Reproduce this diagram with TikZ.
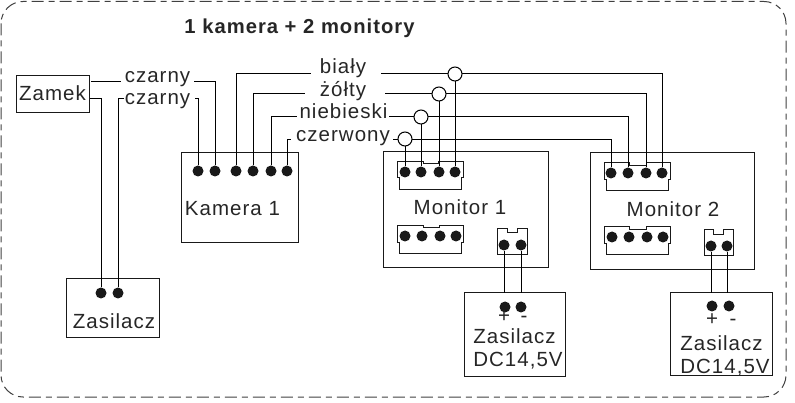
\documentclass[tikz,border=0pt]{standalone}
\usepackage{fontspec}
\setmainfont[LetterSpace=5]{Liberation Sans}
\tikzset{
  wire/.style={line width=1pt, black},
  boxline/.style={draw=black!90, line width=1pt},
  pin/.style={circle, fill=black!90, minimum size=11pt, inner sep=0pt},
  junction/.style={circle, draw=black, fill=white, line width=1pt, minimum size=14pt, inner sep=0pt},
  lbl/.style={font=\fontsize{20.5}{21}\selectfont, text=black!85, inner sep=0pt, anchor=base},
  bordr/.style={line width=1pt, black!75, dash pattern=on 12pt off 5pt on 6pt off 5pt, rounded corners=22pt}
}
\begin{document}
\begin{tikzpicture}[x=1pt, y=-1pt]
\useasboundingbox (0,0) rectangle (795,403);

% Outer frame
\draw[bordr] (1,1.5) rectangle (786,397);
\node[lbl, font=\fontsize{20.2}{21}\selectfont\bfseries] (title) at (299.5,34) {1 kamera + 2 monitory};

% Boxes
\node[lbl] (zamekTxt) at (52.5,100.5) {Zamek};
\draw[boxline] (16.5,76) rectangle (89.5,113);
\draw[boxline] (181.5,153) rectangle (298.5,243);
\node[lbl] (kameraTxt) at (232.5,216) {Kamera 1};
\draw[boxline] (66.5,279) rectangle (159,337);
\node[lbl] (zasTxt) at (114,328) {Zasilacz};
\draw[boxline] (383.5,152) rectangle (548,268);
\node[lbl] (mon1Txt) at (460,215) {Monitor 1};
\draw[boxline] (590,153) rectangle (754,270);
\node[lbl] (mon2Txt) at (673,216.5) {Monitor 2};
\draw[boxline] (464,293) rectangle (565,376);
\draw[boxline] (670,293) rectangle (772,375);

% Connectors on the monitors
\draw[boxline] (397,162) -- (423,162) -- (423,164) -- (438,164) -- (438,162) -- (463,162) -- (463,178) -- (461,178) -- (461,190) -- (399,190) -- (399,178) -- (397,178) -- cycle;
\draw[boxline] (397,226) -- (423,226) -- (423,228) -- (439,228) -- (439,226) -- (463,226) -- (463,243) -- (461,243) -- (461,254) -- (399,254) -- (399,243) -- (397,243) -- cycle;
\draw[boxline] (497,229) -- (507,229) -- (507,233) -- (517,233) -- (517,229) -- (527,229) -- (527,255) -- (497,255) -- cycle;
\draw[boxline] (604,163) -- (629,163) -- (629,166) -- (646,166) -- (646,163) -- (670,163) -- (670,180) -- (668,180) -- (668,191) -- (606,191) -- (606,180) -- (604,180) -- cycle;
\draw[boxline] (604,227) -- (629,227) -- (629,230) -- (646,230) -- (646,227) -- (670,227) -- (670,244) -- (668,244) -- (668,255) -- (606,255) -- (606,244) -- (604,244) -- cycle;
\draw[boxline] (704,230) -- (713,230) -- (713,235) -- (723,235) -- (723,230) -- (733,230) -- (733,256) -- (704,256) -- cycle;

% Pins
\node[pin] (kam1) at (198,171) {};
\node[pin] (kam2) at (215,171) {};
\node[pin] (kam3) at (236,171) {};
\node[pin] (kam4) at (253,171) {};
\node[pin] (kam5) at (271,171) {};
\node[pin] (kam6) at (287,171) {};
\node[pin] (zas1) at (101,293) {};
\node[pin] (zas2) at (118,293) {};
\node[pin] (mA1) at (405,172) {};
\node[pin] (mA2) at (421,172) {};
\node[pin] (mA3) at (439,172) {};
\node[pin] (mA4) at (455,172) {};
\node[pin] (mB1) at (405,236) {};
\node[pin] (mB2) at (422,236) {};
\node[pin] (mB3) at (440,236) {};
\node[pin] (mB4) at (456,236) {};
\node[pin] (mC1) at (504,245) {};
\node[pin] (mC2) at (521,245) {};
\node[pin] (nA1) at (611,173) {};
\node[pin] (nA2) at (628,173) {};
\node[pin] (nA3) at (646,173) {};
\node[pin] (nA4) at (662,173) {};
\node[pin] (nB1) at (612,237) {};
\node[pin] (nB2) at (629,237) {};
\node[pin] (nB3) at (647,237) {};
\node[pin] (nB4) at (663,237) {};
\node[pin] (nC1) at (711,246) {};
\node[pin] (nC2) at (727,246) {};
\node[pin] (dc11) at (505,307) {};
\node[pin] (dc12) at (521,307) {};
\node[pin] (dc21) at (712,306) {};
\node[pin] (dc22) at (729,306) {};

% Power supply texts
\node[lbl] (plus1) at (504,323) {+};
\node[lbl] (minus1) at (524,323) {-};
\node[lbl] (zas1Txt) at (514.5,343) {Zasilacz};
\node[lbl] (dc1Txt) at (518,366) {DC14,5V};
\node[lbl] (plus2) at (712,326) {+};
\node[lbl] (minus2) at (733,326) {-};
\node[lbl] (zas2Txt) at (721.5,350) {Zasilacz};
\node[lbl] (dc2Txt) at (725,373) {DC14,5V};

% Wire labels
\node[lbl] (czarnyA) at (157.5,83) {czarny};
\node[lbl] (czarnyB) at (157.5,105) {czarny};
\node[lbl] (bialyTxt) at (343,74) {biały};
\node[lbl] (zoltyTxt) at (343,97) {żółty};
\node[lbl] (niebTxt) at (343.5,119) {niebieski};
\node[lbl] (czerTxt) at (343,142) {czerwony};

% Wires
\coordinate (zamekA) at (91,82);
\coordinate (zamekB) at (90,99);
\coordinate (czA1) at (121,82);
\coordinate (czA2) at (194,82);
\coordinate (czB1) at (124,99);
\coordinate (czB2) at (195,99);
\draw[wire] (zamekA) -- (czA1);
\draw[wire] (czA2) -| (kam2);
\draw[wire] (zamekB) -| (zas1);
\draw[wire] (czB1) -| (zas2);
\draw[wire] (czB2) -| (kam1);

\coordinate (bialyL) at (311,74);
\coordinate (bialyR) at (381,74);
\coordinate (zoltyL) at (305,94);
\coordinate (zoltyR) at (385,94);
\coordinate (niebL) at (297,117);
\coordinate (niebR) at (389,117);
\coordinate (czerL) at (291,140);
\coordinate (czerR) at (393,140);
\draw[wire] (kam3) |- (bialyL);
\draw[wire] (kam4) |- (zoltyL);
\draw[wire] (kam5) |- (niebL);
\draw[wire] (kam6) |- (czerL);
\draw[wire] (bialyR) -| (nA4);
\draw[wire] (zoltyR) -| (nA3);
\draw[wire] (niebR) -| (nA2);
\draw[wire] (czerR) -| (nA1);

\node[junction] (jBialy) at (455,74) {};
\node[junction] (jZolty) at (439,94) {};
\node[junction] (jNieb) at (421,117) {};
\node[junction] (jCzer) at (405,139) {};
\draw[wire] (jBialy) -- (mA4);
\draw[wire] (jZolty) -- (mA3);
\draw[wire] (jNieb) -- (mA2);
\draw[wire] (jCzer) -- (mA1);

\coordinate (top11) at (504,293);
\coordinate (top12) at (521,293);
\coordinate (top21) at (711,293);
\coordinate (top22) at (727,293);
\draw[wire] (mC1) -- (top11);
\draw[wire] (mC2) -- (top12);
\draw[wire] (nC1) -- (top21);
\draw[wire] (nC2) -- (top22);
\end{tikzpicture}
\end{document}
